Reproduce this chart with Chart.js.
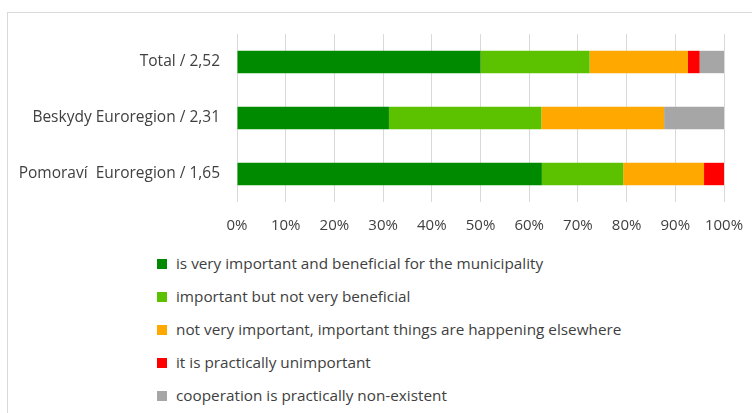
<!DOCTYPE html>
<html>
<head>
<meta charset="utf-8">
<script src="https://cdn.jsdelivr.net/npm/chart.js@4"></script>
<style>
  html, body { margin: 0; background: #fff; overflow: hidden; font-family: "Open Sans", sans-serif; }
  #frame { position: absolute; left: 7px; top: 12px; width: 745px; height: 401px;
           border-left: 1px solid #d9d9d9; border-top: 1px solid #d9d9d9; box-sizing: border-box; }
  #wrap { position: absolute; left: 0; top: 0; width: 752px; height: 240px; }
  #legend { position: absolute; left: 157px; top: 253px; margin: 0; padding: 0; list-style: none; }
  #legend li { height: 33px; line-height: 20px; font-size: 15.3px; color: #404040; white-space: nowrap; }
  #legend span { display: inline-block; width: 10px; height: 10px; margin-right: 9px; vertical-align: 0px; }
</style>
</head>
<body>
<div id="frame"></div>
<div id="wrap"><canvas id="chart"></canvas></div>
<ul id="legend"></ul>
<script>
// categories (top to bottom)
const regions = ['Total / 2,52', 'Beskydy Euroregion / 2,31', 'Pomoraví  Euroregion / 1,65'];

// answer categories
const answers = [
    'is very important and beneficial for the municipality',
    'important but not very beneficial',
    'not very important, important things are happening elsewhere',
    'it is practically unimportant',
    'cooperation is practically non-existent',
];

// shares in % per answer, in region order
const veryImportant = [50.0, 31.2, 62.6];
const importantNotBeneficial = [22.4, 31.3, 16.7];
const notVeryImportant = [20.2, 25.2, 16.6];
const unimportant = [2.4, 0, 4.1];
const nonExistent = [5.0, 12.3, 0];

const colors = ['#008a00', '#5cc200', '#ffa800', '#ff0000', '#a6a6a6'];
const seriesValues = [veryImportant, importantNotBeneficial, notVeryImportant, unimportant, nonExistent];

const ctx = document.getElementById('chart').getContext('2d');
const chart = new Chart(ctx, {
    type: 'bar',
    data: {
        labels: regions,
        datasets: answers.map((name, i) => ({
            label: name,
            data: seriesValues[i],
            backgroundColor: colors[i],
            borderWidth: 0,
            categoryPercentage: 1,
            barPercentage: 0.4,
        })),
    },
    options: {
        indexAxis: 'y',
        responsive: true,
        maintainAspectRatio: false,
        animation: false,
        layout: { padding: { top: 34, right: 0, left: 0, bottom: 0 } },
        plugins: {
            legend: { display: false },
            tooltip: { enabled: false },
        },
        scales: {
            x: {
                stacked: true,
                min: 0,
                max: 100,
                ticks: {
                    stepSize: 10,
                    padding: 15,
                    color: '#404040',
                    font: { family: 'Open Sans', size: 15 },
                    callback: v => v + '%',
                },
                grid: { color: '#d9d9d9', drawTicks: false },
                border: { display: false },
                afterFit: s => { s.height = 38; s.paddingLeft = 0; s.paddingRight = 28; },
            },
            y: {
                stacked: true,
                ticks: {
                    padding: 17,
                    color: '#404040',
                    font: { family: 'Open Sans', size: 15.5 },
                },
                grid: { display: false, drawTicks: false },
                border: { display: false },
                afterFit: s => { s.width = 237; },
            },
        },
    },
});

// legend as a vertical list, built from the chart datasets
const legend = document.getElementById('legend');
chart.data.datasets.forEach(ds => {
    const li = document.createElement('li');
    const box = document.createElement('span');
    box.style.background = ds.backgroundColor;
    li.appendChild(box);
    li.appendChild(document.createTextNode(ds.label));
    legend.appendChild(li);
});
</script>
</body>
</html>
